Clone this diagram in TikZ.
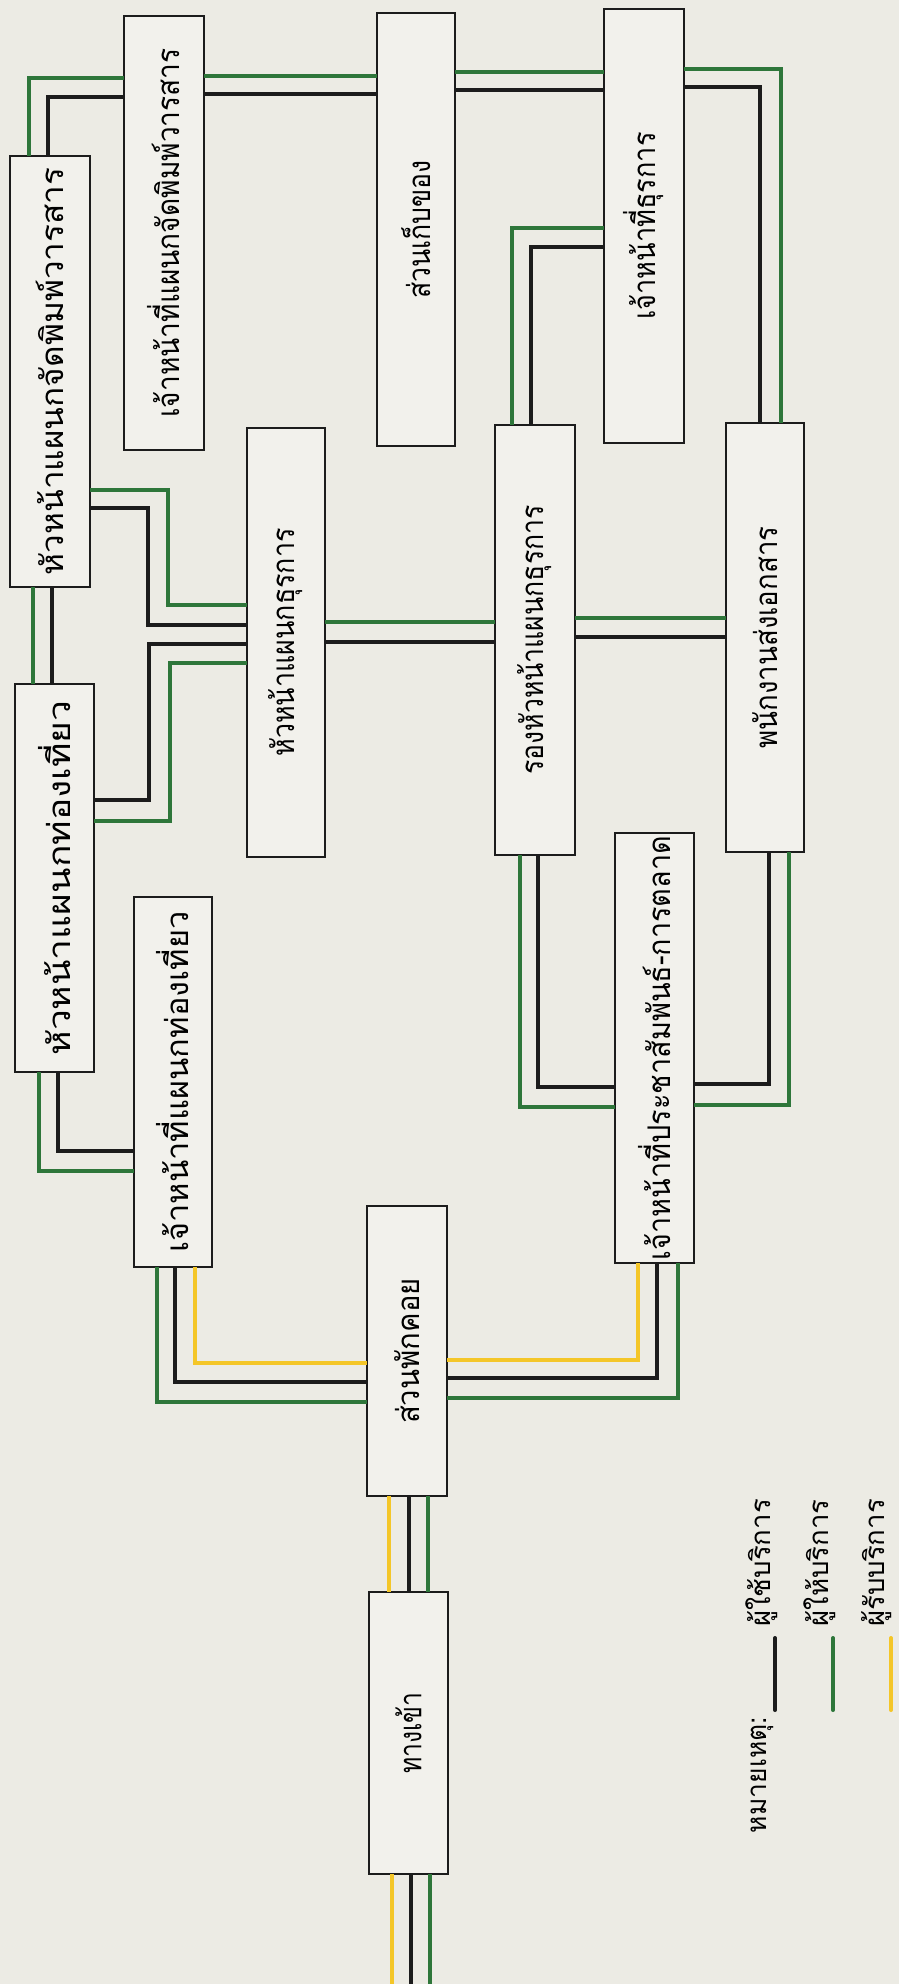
\documentclass[tikz,border=0pt]{standalone}
\usepackage{fontspec}
\newfontfamily\thai[Script=Thai]{Loma}
\usetikzlibrary{calc}
\definecolor{bg}{RGB}{236,235,228}
\definecolor{boxbg}{RGB}{242,241,236}
\definecolor{gr}{RGB}{46,118,58}
\definecolor{yel}{RGB}{244,198,40}
\definecolor{bk}{RGB}{28,28,28}
\newcommand{\boxlab}[2]{\rotatebox{90}{\scalebox{#1}[1.3]{#2}}}
\newcommand{\leglab}[2]{\rotatebox{90}{\scalebox{#1}[1.15]{#2}}}
\begin{document}
\begin{tikzpicture}[x=1pt,y=-1pt,
  box/.style={draw=bk, line width=1.8pt, fill=boxbg, inner sep=0pt, outer sep=0pt, font=\thai\fontsize{24}{28}\selectfont},
  glin/.style={draw=gr, line width=4pt},
  blin/.style={draw=bk, line width=4pt},
  ylin/.style={draw=yel, line width=4pt},
  leg/.style={font=\thai\fontsize{24}{28}\selectfont, inner sep=0pt}]
\fill[bg] (0,0) rectangle (899,1984);
\useasboundingbox (0,0) rectangle (899,1984);
% boxes
\node[box, minimum width=80pt, minimum height=431pt] (A) at (50,371.5) {\boxlab{1.39}{หัวหน้าแผนกจัดพิมพ์วารสาร}};
\node[box, minimum width=80pt, minimum height=434pt] (B) at (164,233) {\boxlab{1.17}{เจ้าหน้าที่แผนกจัดพิมพ์วารสาร}};
\node[box, minimum width=78pt, minimum height=433pt] (C) at (416,229.5) {\boxlab{1.11}{ส่วนเก็บของ}};
\node[box, minimum width=80pt, minimum height=434pt] (D) at (644,226) {\boxlab{1.13}{เจ้าหน้าที่ธุรการ}};
\node[box, minimum width=78pt, minimum height=429pt] (E) at (286,642.5) {\boxlab{1.12}{หัวหน้าแผนกธุรการ}};
\node[box, minimum width=79pt, minimum height=388pt] (F) at (54.5,878) {\boxlab{1.55}{หัวหน้าแผนกท่องเที่ยว}};
\node[box, minimum width=78pt, minimum height=370pt] (G) at (173,1082) {\boxlab{1.36}{เจ้าหน้าที่แผนกท่องเที่ยว}};
\node[box, minimum width=80pt, minimum height=430pt] (H) at (535,640) {\boxlab{1.11}{รองหัวหน้าแผนกธุรการ}};
\node[box, minimum width=78pt, minimum height=429pt] (I) at (765,637.5) {\boxlab{1.15}{พนักงานส่งเอกสาร}};
\node[box, minimum width=79pt, minimum height=430pt] (J) at (654.5,1048) {\boxlab{1.2}{เจ้าหน้าที่ประชาสัมพันธ์-การตลาด}};
\node[box, minimum width=80pt, minimum height=290pt] (K) at (407,1351) {\boxlab{1.22}{ส่วนพักคอย}};
\node[box, minimum width=79pt, minimum height=282pt] (L) at (408.5,1733) {\boxlab{1.03}{ทางเข้า}};
% A-B
\draw[glin] (A.north -| 29,0) |- (B.west |- 0,78);
\draw[blin] (A.north -| 48,0) |- (B.west |- 0,97);
% B-C
\draw[glin] (B.east |- 0,76) -- (C.west |- 0,76);
\draw[blin] (B.east |- 0,94) -- (C.west |- 0,94);
% C-D
\draw[glin] (C.east |- 0,72) -- (D.west |- 0,72);
\draw[blin] (C.east |- 0,90) -- (D.west |- 0,90);
% D-I
\draw[glin] (D.east |- 0,69) -| (I.north -| 781,0);
\draw[blin] (D.east |- 0,87) -| (I.north -| 760,0);
% D-H
\draw[glin] (D.west |- 0,228) -| (H.north -| 512,0);
\draw[blin] (D.west |- 0,247) -| (H.north -| 531,0);
% A-E
\draw[glin] (A.east |- 0,490) -| (168,605) -- (E.west |- 0,605);
\draw[blin] (A.east |- 0,508) -| (148,625) -- (E.west |- 0,625);
% E-F
\draw[blin] (E.west |- 0,644) -| (149,800) -- (F.east |- 0,800);
\draw[glin] (E.west |- 0,663) -| (170,821) -- (F.east |- 0,821);
% A-F
\draw[glin] (A.south -| 33,0) -- (F.north -| 33,0);
\draw[blin] (A.south -| 52,0) -- (F.north -| 52,0);
% E-H
\draw[glin] (E.east |- 0,622) -- (H.west |- 0,622);
\draw[blin] (E.east |- 0,642) -- (H.west |- 0,642);
% H-I
\draw[glin] (H.east |- 0,618) -- (I.west |- 0,618);
\draw[blin] (H.east |- 0,637) -- (I.west |- 0,637);
% F-G
\draw[blin] (F.south -| 58,0) |- (G.west |- 0,1151);
\draw[glin] (F.south -| 39,0) |- (G.west |- 0,1171);
% G-K
\draw[ylin] (G.south -| 195,0) |- (K.west |- 0,1363);
\draw[blin] (G.south -| 175,0) |- (K.west |- 0,1382);
\draw[glin] (G.south -| 157,0) |- (K.west |- 0,1402);
% K-J
\draw[ylin] (K.east |- 0,1360) -| (J.south -| 638,0);
\draw[blin] (K.east |- 0,1378) -| (J.south -| 657,0);
\draw[glin] (K.east |- 0,1398) -| (J.south -| 678,0);
% H-J
\draw[blin] (H.south -| 538,0) |- (J.west |- 0,1087);
\draw[glin] (H.south -| 520,0) |- (J.west |- 0,1107);
% I-J
\draw[blin] (I.south -| 769,0) |- (J.east |- 0,1084);
\draw[glin] (I.south -| 789,0) |- (J.east |- 0,1105);
% K-L
\draw[ylin] (K.south -| 389,0) -- (L.north -| 389,0);
\draw[blin] (K.south -| 409,0) -- (L.north -| 409,0);
\draw[glin] (K.south -| 428,0) -- (L.north -| 428,0);
% L-exit
\coordinate (ey) at (392,1984);
\coordinate (eb) at (411,1984);
\coordinate (eg) at (430,1984);
\draw[ylin] (L.south -| ey) -- (ey);
\draw[blin] (L.south -| eb) -- (eb);
\draw[glin] (L.south -| eg) -- (eg);
% legend
\node[leg] (n0) at (762,1775) {\leglab{1.1}{หมายเหตุ:}};
\node[leg] (n1) at (762,1563) {\leglab{1.15}{ผู้ใช้บริการ}};
\node[leg] (n2) at (820,1563) {\leglab{1.15}{ผู้ให้บริการ}};
\node[leg] (n3) at (877,1563) {\leglab{1.15}{ผู้รับบริการ}};
\coordinate (l1a) at (775,1710); \coordinate (l1b) at (775,1638);
\coordinate (l2a) at (833,1710); \coordinate (l2b) at (833,1638);
\coordinate (l3a) at (891,1710); \coordinate (l3b) at (891,1638);
\draw[blin, line cap=round] (l1a) -- (l1b);
\draw[glin, line cap=round] (l2a) -- (l2b);
\draw[ylin, line cap=round] (l3a) -- (l3b);
\end{tikzpicture}
\end{document}
